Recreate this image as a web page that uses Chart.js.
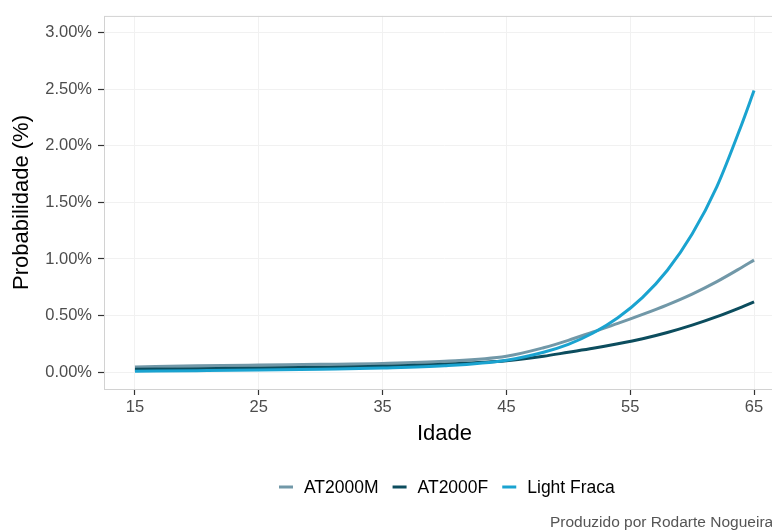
<!DOCTYPE html>
<html>
<head>
<meta charset="utf-8">
<script src="https://cdn.jsdelivr.net/npm/chart.js@4.4.1/dist/chart.umd.min.js"></script>
<style>
    html, body { margin: 0; padding: 0; background: #fff; overflow: hidden; }
    #wrap { position: relative; width: 800px; height: 531px; }
</style>
</head>
<body>
<div id="wrap"><canvas id="myChart" width="800" height="531"></canvas></div>
<script>
// ages and mortality probabilities (%)
var ages = [15, 20, 25, 30, 35, 40, 45, 48, 50, 52, 54, 56, 58, 60, 62, 64, 65];
var at2000M = [0.045, 0.055, 0.062, 0.068, 0.076, 0.095, 0.14, 0.215, 0.28, 0.355, 0.43, 0.51, 0.595, 0.69, 0.80, 0.925, 0.99];
var at2000F = [0.025, 0.030, 0.035, 0.042, 0.052, 0.070, 0.10, 0.14, 0.175, 0.21, 0.25, 0.295, 0.35, 0.415, 0.49, 0.575, 0.62];
var lightFraca = [0.008, 0.012, 0.017, 0.025, 0.035, 0.055, 0.105, 0.175, 0.245, 0.345, 0.48, 0.66, 0.90, 1.22, 1.64, 2.19, 2.49];

var seriesNames = ["AT2000M", "AT2000F", "Light Fraca"];
var seriesColors = ["#7198a8", "#0c4d5e", "#1aa3d0"];
var xTicks = [15, 25, 35, 45, 55, 65];
var yTicks = [0, 0.5, 1, 1.5, 2, 2.5, 3];

var fontFamily = "'Liberation Sans', Arial, sans-serif";

var toPoints = function(values) {
    return values.map(function(v, i) {
        return { x: ages[i], y: v };
    });
};

var makeDataset = function(idx, values) {
    return {
        label: seriesNames[idx],
        data: toPoints(values),
        borderColor: seriesColors[idx],
        backgroundColor: seriesColors[idx],
        borderWidth: 3,
        pointRadius: 0,
        fill: false,
        cubicInterpolationMode: 'monotone',
        order: 3 - idx
    };
};

// panel border + legend + caption
var extras = {
    id: 'extras',
    beforeDatasetsDraw: function(chart) {
        var a = chart.chartArea, ctx = chart.ctx;
        ctx.save();
        ctx.strokeStyle = '#d2d2d2';
        ctx.lineWidth = 1;
        ctx.strokeRect(a.left + 0.5, a.top + 0.5, a.right - a.left, a.bottom - a.top);
        ctx.restore();
    },
    afterDraw: function(chart) {
        var ctx = chart.ctx;
        ctx.save();
        ctx.font = "17.5px " + fontFamily;
        ctx.textBaseline = 'middle';
        var x = 279, y = 487;
        chart.data.datasets.forEach(function(ds) {
            ctx.strokeStyle = ds.borderColor;
            ctx.lineWidth = 3;
            ctx.beginPath();
            ctx.moveTo(x, y);
            ctx.lineTo(x + 14, y);
            ctx.stroke();
            x += 25;
            ctx.fillStyle = '#000';
            ctx.fillText(ds.label, x, y + 1);
            x += ctx.measureText(ds.label).width + 14;
        });
        ctx.font = "15.5px " + fontFamily;
        ctx.fillStyle = '#555555';
        ctx.textBaseline = 'alphabetic';
        ctx.fillText("Produzido por Rodarte Nogueira", 550, 527);
        ctx.restore();
    }
};

var config = {
    type: 'line',
    data: {
        datasets: [
            makeDataset(0, at2000M),
            makeDataset(1, at2000F),
            makeDataset(2, lightFraca)
        ]
    },
    options: {
        responsive: false,
        animation: false,
        layout: { padding: { left: 0, top: 12.5, right: 15, bottom: 86 } },
        plugins: {
            legend: { display: false },
            tooltip: { enabled: false }
        },
        scales: {
            x: {
                type: 'linear',
                min: 12.5,
                max: 67.5,
                afterBuildTicks: function(scale) {
                    scale.ticks = xTicks.map(function(v) { return { value: v }; });
                },
                afterFit: function(scale) { scale.height = 56; },
                grid: { color: '#f1f1f1', lineWidth: 1, tickLength: 6, tickColor: '#333333', tickWidth: 1.2 },
                border: { display: false },
                ticks: {
                    color: '#4d4d4d',
                    font: { family: fontFamily, size: 16.5 },
                    padding: 3,
                    maxRotation: 0,
                    callback: function(v) { return v; }
                },
                title: {
                    display: true,
                    text: 'Idade',
                    color: '#000',
                    font: { family: fontFamily, size: 22, lineHeight: 1 },
                    padding: { top: 0, bottom: 0 }
                }
            },
            y: {
                min: -0.15,
                max: 3.15,
                afterBuildTicks: function(scale) {
                    scale.ticks = yTicks.map(function(v) { return { value: v }; });
                },
                afterFit: function(scale) { scale.width = 104; },
                grid: { color: '#f1f1f1', lineWidth: 1, tickLength: 6, tickColor: '#333333', tickWidth: 1.2 },
                border: { display: false },
                ticks: {
                    color: '#4d4d4d',
                    font: { family: fontFamily, size: 16.5 },
                    padding: 6,
                    callback: function(v) { return v.toFixed(2) + '%'; }
                },
                title: {
                    display: true,
                    text: 'Probabilidade (%)',
                    color: '#000',
                    font: { family: fontFamily, size: 22, lineHeight: 1 },
                    padding: { top: 11, bottom: 0 }
                }
            }
        }
    },
    plugins: [extras]
};

var myChart = new Chart(document.getElementById("myChart").getContext("2d"), config);
</script>
</body>
</html>
